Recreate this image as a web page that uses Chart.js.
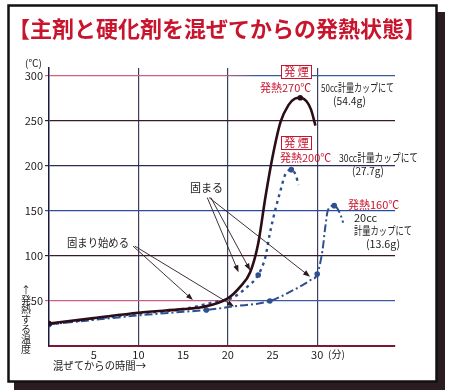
<!DOCTYPE html>
<html lang="ja">
<head>
<meta charset="utf-8">
<title>主剤と硬化剤を混ぜてからの発熱状態</title>
<script src="https://cdn.jsdelivr.net/npm/chart.js@4.4.1/dist/chart.umd.min.js"></script>
<style>
  html, body { margin: 0; padding: 0; background: #fff; }
  #wrap { position: relative; width: 450px; height: 391px; }
</style>
</head>
<body>
<div id="wrap"><canvas id="grafico"></canvas></div>
<script>
// Valores: tiempo (分) y temperatura (℃)
const tiempo50 = [0, 5, 10, 15, 17, 20, 21.4, 22.5, 23.4, 24.2, 25, 25.9, 26.8, 27.5, 28.1, 28.8, 29.3, 29.8];
const temp50   = [25, 31, 37, 41, 43, 53, 66, 82, 114, 165, 210, 249, 268, 275, 276, 272, 263, 245];

const tiempo30 = [0, 5, 10, 15, 19, 20.6, 22.2, 23.4, 24.2, 24.7, 25.3, 25.9, 26.4, 27.1, 27.6, 27.9];
const temp30   = [24, 30, 36, 41, 50, 54, 66, 79, 99, 125, 151, 173, 190, 196, 190, 179];

const tiempo20 = [0, 5, 10, 15, 17.6, 20.6, 24.7, 27.3, 29.2, 30, 30.6, 30.9, 31.2, 31.9, 32.6, 32.9];
const temp20   = [24, 29, 34, 38, 40, 44, 50, 62, 73, 80, 107, 132, 151, 156, 146, 137];

const ticksX = [5, 10, 15, 20, 25, 30];
const gridX  = [10, 20, 30];
const ticksY = [50, 100, 150, 200, 250, 300];

// Flechas de anotación (en unidades de datos): [x1, y1, x2, y2]
const flechasKatamaru = [[17.7, 165, 21.2, 82], [18.1, 165, 22.5, 84], [17.9, 165, 29.2, 77]];
const flechasHajime   = [[9.4, 111, 16.1, 51], [9.6, 111, 20.7, 44]];

const titulo = "【主剤と硬化剤を混ぜてからの発熱状態】";

const AZUL = "#2f4f8f";
const GRANATE = "#2b0d18";
const ROJO = "#c8142c";
const FUENTE = "'Noto Sans CJK JP', 'Noto Sans', sans-serif";

// Índices donde se dibuja un punto
const marcas50 = [0, 14];
const marcas30 = [7, 13];
const marcas20 = [0, 4, 6, 9, 13];

const puntos = (xs, ys) => xs.map((x, i) => ({ x, y: ys[i] }));
const radio = marcas => ctx => marcas.includes(ctx.dataIndex) ? 2.8 : 0;

function flecha(ctx, x1, y1, x2, y2) {
    const ang = Math.atan2(y2 - y1, x2 - x1);
    const L = 7, W = 2.6;
    ctx.beginPath();
    ctx.moveTo(x1, y1);
    ctx.lineTo(x2 - Math.cos(ang) * L * 0.8, y2 - Math.sin(ang) * L * 0.8);
    ctx.stroke();
    ctx.beginPath();
    ctx.moveTo(x2, y2);
    ctx.lineTo(x2 - L * Math.cos(ang) + W * Math.sin(ang), y2 - L * Math.sin(ang) - W * Math.cos(ang));
    ctx.lineTo(x2 - L * Math.cos(ang) - W * Math.sin(ang), y2 - L * Math.sin(ang) + W * Math.cos(ang));
    ctx.closePath();
    ctx.fill();
}

function texto(ctx, t, x, y, color, ancho, size, align) {
    ctx.font = (size || 11) + "px " + FUENTE;
    ctx.fillStyle = color;
    ctx.textAlign = align || "left";
    ctx.textBaseline = "middle";
    if (ancho) ctx.fillText(t, x, y, ancho); else ctx.fillText(t, x, y);
}

// Marco con sombra y título
const pluginMarco = {
    id: "marco",
    beforeDraw(chart) {
        const ctx = chart.ctx;
        ctx.save();
        ctx.fillStyle = "#fff";
        ctx.fillRect(0, 0, 450, 391);
        ctx.fillStyle = "#2b1c24";
        ctx.fillRect(437, 12, 8, 378);
        ctx.fillRect(14, 382, 431, 8);
        ctx.strokeStyle = "#111";
        ctx.lineWidth = 2.5;
        ctx.strokeRect(8.5, 5.5, 428, 376);
        ctx.font = "bold 22px " + FUENTE;
        ctx.fillStyle = ROJO;
        ctx.textAlign = "left";
        ctx.textBaseline = "middle";
        ctx.fillText(titulo, 8, 29, 420);
        ctx.restore();
    },
    afterDatasetsDraw(chart) {
        const ctx = chart.ctx;
        const sx = chart.scales.x, sy = chart.scales.y;
        ctx.save();
        ctx.strokeStyle = "#2a1a20";
        ctx.fillStyle = "#2a1a20";
        ctx.lineWidth = 0.9;
        [...flechasKatamaru, ...flechasHajime].forEach(([a, b, c, d]) => {
            flecha(ctx, sx.getPixelForValue(a), sy.getPixelForValue(b), sx.getPixelForValue(c), sy.getPixelForValue(d));
        });

        // Cajas "発煙"
        ctx.strokeStyle = ROJO;
        ctx.lineWidth = 1;
        [[281, 65], [281, 136]].forEach(([x, y]) => {
            ctx.fillStyle = "#fff";
            ctx.fillRect(x, y, 30, 13);
            ctx.strokeRect(x + 0.5, y + 0.5, 30, 13);
            texto(ctx, "発 煙", x + 15.5, y + 7, ROJO, 26, 11, "center");
        });

        texto(ctx, "発熱270℃", 260, 88, ROJO, 53);
        texto(ctx, "50cc計量カップにて", 321, 88, "#222", 73);
        texto(ctx, "(54.4g)", 333, 101, "#222", 33);
        texto(ctx, "発熱200℃", 280, 158, ROJO, 52);
        texto(ctx, "30cc計量カップにて", 339, 158, "#222", 79);
        texto(ctx, "(27.7g)", 352, 171, "#222", 32);
        texto(ctx, "発熱160℃", 348, 205, ROJO, 52);
        texto(ctx, "20cc", 354, 218, "#222", 24);
        texto(ctx, "計量カップにて", 354, 231, "#222", 58);
        texto(ctx, "(13.6g)", 366, 244, "#222", 34);
        texto(ctx, "固まる", 190, 188, "#222", 36);
        texto(ctx, "固まり始める", 67, 243, "#222", 62);

        // Ejes: unidades y títulos
        texto(ctx, "(℃)", 25, 63, "#222", 18, 10);
        texto(ctx, "(分)", 328, 354, "#222", 17, 10);
        texto(ctx, "混ぜてからの時間→", 53, 366, "#222", 93);
        const vertical = ["↑", "発", "熱", "す", "る", "温", "度"];
        vertical.forEach((c, i) => texto(ctx, c, 26, 290 + i * 9.8, "#222", null, 10, "center"));
        ctx.restore();
    }
};

function colorRejillaY(ctx) {
    const v = ctx.tick.value;
    const area = ctx.chart.chartArea;
    if (!area) return "transparent";
    if (v === 300 || v === 50) {
        const g = ctx.chart.ctx.createLinearGradient(area.left, 0, area.right, 0);
        g.addColorStop(0, "#d0607e");
        g.addColorStop(0.5, "#c86080");
        g.addColorStop(0.6, "#3a5aa0");
        g.addColorStop(1, "#3a5aa0");
        return g;
    }
    if (v === 150) return "#2c4c9c";
    if (v === 200) return "#2a2c50";
    if (v === 100 || v === 250) return "#3a1a28";
    return "transparent";
}

const ctxG = document.getElementById("grafico").getContext("2d");
new Chart(ctxG, {
    type: "line",
    data: {
        datasets: [
            {
                label: "50cc",
                data: puntos(tiempo50, temp50),
                borderColor: GRANATE, backgroundColor: GRANATE,
                borderWidth: 2.6, pointRadius: radio(marcas50), pointBorderWidth: 0
            },
            {
                label: "30cc",
                data: puntos(tiempo30, temp30),
                borderColor: AZUL, backgroundColor: AZUL,
                borderWidth: 2.4, borderDash: [3, 4], pointRadius: radio(marcas30), pointBorderWidth: 0
            },
            {
                label: "20cc",
                data: puntos(tiempo20, temp20),
                borderColor: AZUL, backgroundColor: AZUL,
                borderWidth: 2, borderDash: [8, 3, 2, 3], pointRadius: radio(marcas20), pointBorderWidth: 0
            }
        ]
    },
    options: {
        responsive: true,
        maintainAspectRatio: false,
        animation: false,
        layout: { padding: { left: 0, top: 68, right: 55, bottom: 0 } },
        elements: { line: { cubicInterpolationMode: "monotone", tension: 0.4 } },
        plugins: { legend: { display: false }, tooltip: { enabled: false } },
        scales: {
            x: {
                type: "linear", min: 0, max: 38.7,
                afterFit: s => { s.height = 45; },
                ticks: {
                    stepSize: 5, includeBounds: false, padding: 2, color: "#222",
                    font: { size: 11, family: FUENTE },
                    maxRotation: 0, autoSkip: false,
                    callback: v => ticksX.includes(v) ? String(v) : ""
                },
                grid: {
                    drawTicks: false,
                    color: c => gridX.includes(c.tick.value) ? "#3a4060" : "transparent",
                    lineWidth: 1.2
                },
                border: { color: "#7a1a30", width: 2 }
            },
            y: {
                min: 0, max: 309,
                afterFit: s => { s.width = 49; },
                ticks: {
                    stepSize: 50, includeBounds: false, padding: 2, color: "#222",
                    font: { size: 11, family: FUENTE },
                    callback: v => ticksY.includes(v) ? String(v) : ""
                },
                grid: { color: colorRejillaY, tickLength: 4, lineWidth: 1.2 },
                border: { color: "#1a1a40", width: 1.5 }
            }
        }
    },
    plugins: [pluginMarco]
});
</script>
</body>
</html>
